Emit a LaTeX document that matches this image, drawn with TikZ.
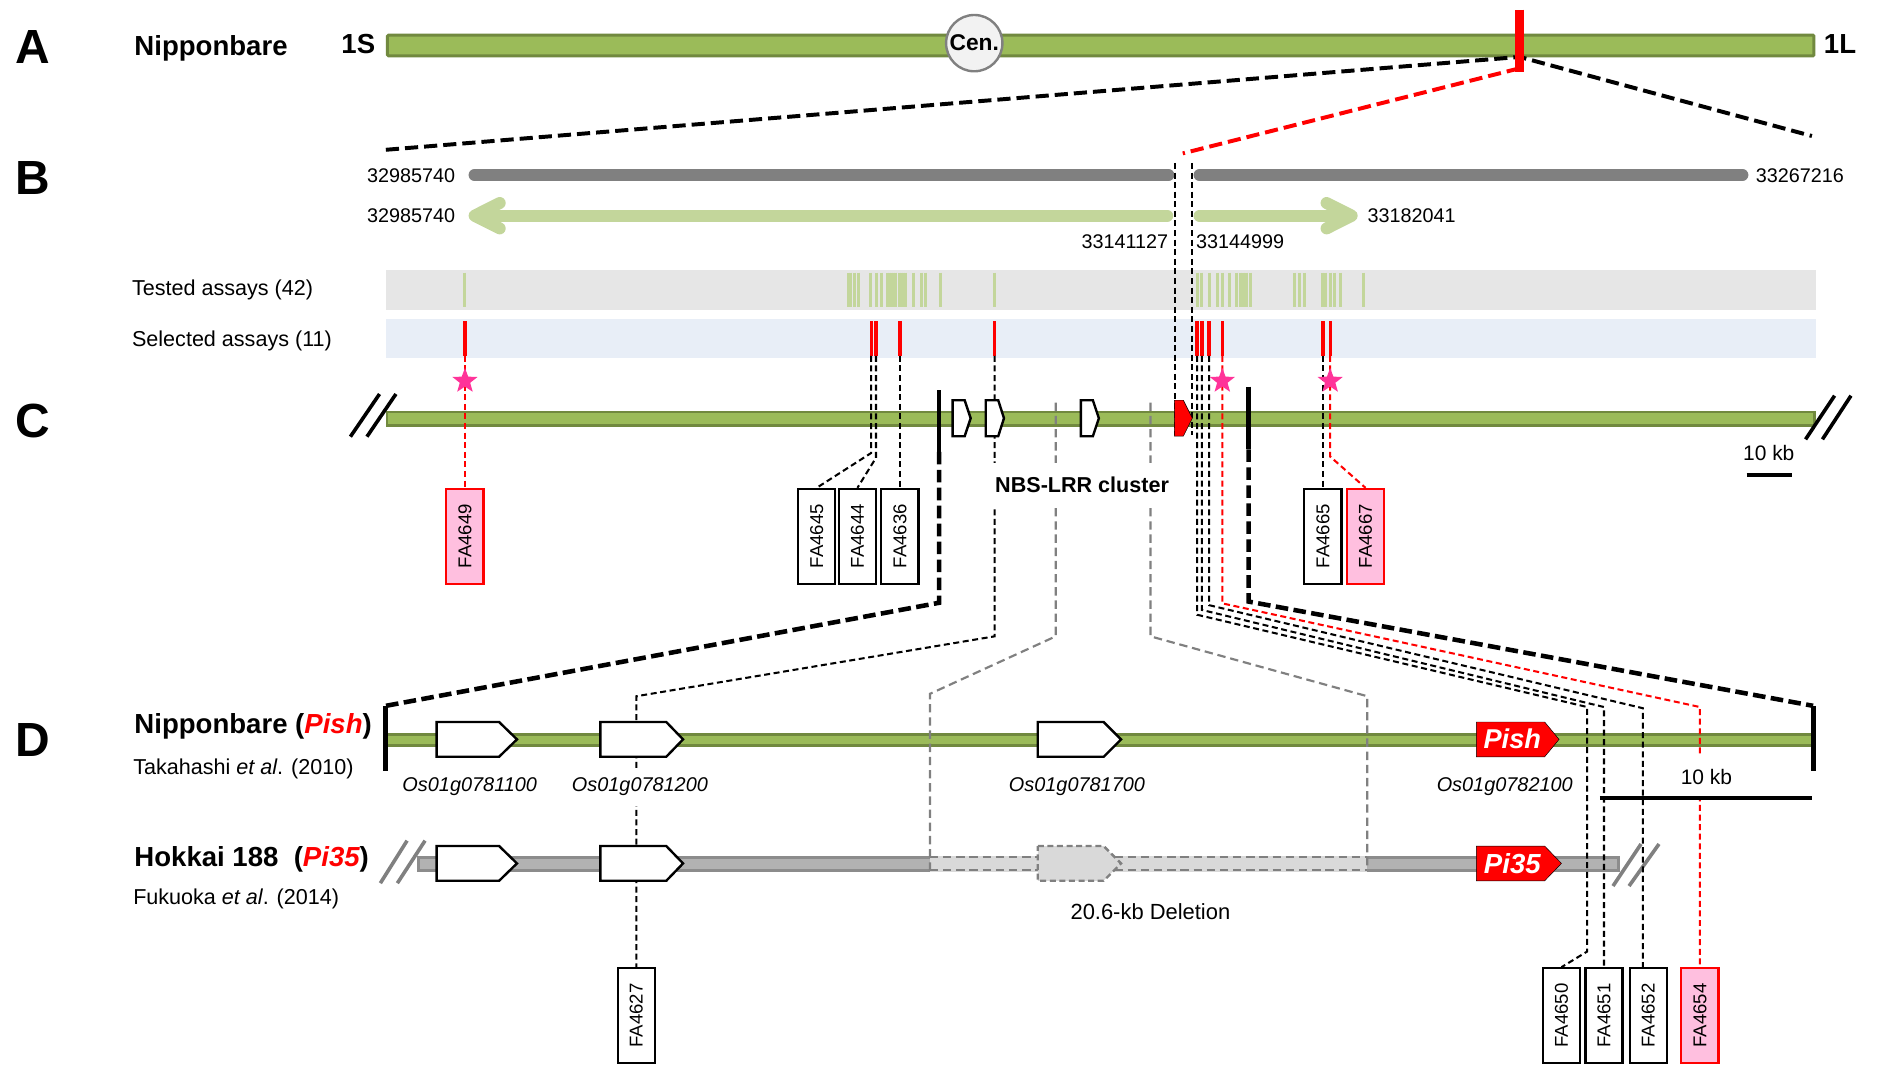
\documentclass[tikz,border=0pt]{standalone}
\usepackage{fontspec}
\setmainfont{Liberation Sans}
\usetikzlibrary{shapes.geometric}
\definecolor{chrgreen}{HTML}{9BBB59}
\definecolor{chredge}{HTML}{71893F}
\definecolor{ltgreen}{HTML}{C3D69B}
\definecolor{bgray}{HTML}{808080}
\definecolor{bandone}{HTML}{E6E6E6}
\definecolor{bandtwo}{HTML}{E8EEF7}
\definecolor{pinkfill}{HTML}{FFBFDF}
\definecolor{starpink}{HTML}{FF3399}
\definecolor{hokfill}{HTML}{B2B2B2}
\definecolor{hokedge}{HTML}{8C8C8C}
\definecolor{delfill}{HTML}{D9D9D9}
\definecolor{cenfill}{HTML}{F2F2F2}
\newcommand{\fsz}[1]{\fontsize{#1}{#1}\selectfont}
\newcommand{\genepent}[6]{\draw[#6] (#1,#4-#5) -- (#3,#4-#5) -- (#2,#4) -- (#3,#4+#5) -- (#1,#4+#5) -- cycle;}
\begin{document}
\begin{tikzpicture}[x=1pt,y=-1pt,
  lbl/.style={inner sep=0pt},
  bigdash/.style={line width=3.3pt, dash pattern=on 11pt off 5pt},
  thickdash/.style={line width=3.8pt, dash pattern=on 10.5pt off 4.5pt},
  thindash/.style={line width=1.7pt, dash pattern=on 5pt off 3pt},
  reddash/.style={thindash, draw=red},
  graydash/.style={line width=1.8pt, dash pattern=on 7pt off 4pt, draw=bgray},
  fabox/.style={draw, line width=1.8pt, fill=white, minimum width=79pt, minimum height=31pt, inner sep=0pt, rotate=90, font=\fsz{15.5}},
  fared/.style={fabox, draw=red, fill=pinkfill},
  pstar/.style={star, star points=5, star point ratio=2.4, minimum size=22pt, inner sep=0pt, fill=starpink},
  genew/.style={draw, line width=2pt, fill=white, line join=miter},
  brk/.style={line width=3pt, draw=black},
  glabel/.style={fill=white, inner xsep=0pt, inner ysep=0pt, minimum height=32pt, font=\fsz{16.6}\itshape, anchor=base}
]
\useasboundingbox[fill=white] (0,0) rectangle (1568,888);

% ---------- panel letters ----------
\node[lbl, font=\fsz{40}\bfseries, anchor=base] (lA) at (27,53) {A};
\node[lbl, font=\fsz{40}\bfseries, anchor=base] (lB) at (27,162) {B};
\node[lbl, font=\fsz{40}\bfseries, anchor=base] (lC) at (27,365) {C};
\node[lbl, font=\fsz{40}\bfseries, anchor=base] (lD) at (27,631) {D};

% ---------- panel A ----------
\node[lbl, font=\fsz{23}\bfseries, anchor=base west] (nipA) at (112,46) {Nipponbare};
\node[lbl, font=\fsz{23}\bfseries, anchor=base] (oneS) at (299,44.5) {1S};
\node[lbl, font=\fsz{23}\bfseries, anchor=base] (oneL) at (1535.5,44.5) {1L};
\draw[fill=chrgreen, draw=chredge, line width=2.5pt, rounded corners=1pt] (323.3,29.3) rectangle (1513.7,46.7);
\node[circle, draw=bgray, line width=2pt, fill=cenfill, minimum size=47pt, inner sep=0pt, font=\fsz{19}\bfseries] (cen) at (813,36) {Cen.};
\coordinate (aJoin) at (1268,47.5);
\coordinate (aRedJoin) at (1268,57);
\coordinate (aL) at (322,125);
\coordinate (aR) at (1512,113.5);
\coordinate (bRed) at (987,128);
\draw[bigdash] (aL) -- (aJoin) -- (aR);
\draw[bigdash, red] (aRedJoin) -- (bRed);
\coordinate (mkT) at (1268,8);
\coordinate (mkB) at (1268,60);
\draw[red, line width=7pt] (mkT) -- (mkB);

% ---------- panel B ----------
\draw[line width=10pt, bgray, line cap=round] (396,146) -- (975,146);
\draw[line width=10pt, bgray, line cap=round] (1001,146) -- (1454,146);
\draw[line width=10pt, ltgreen, line cap=round] (398,180) -- (974,180);
\draw[line width=10pt, ltgreen, line cap=round, line join=round] (417,169.4) -- (396,180) -- (417,190.6);
\draw[line width=10pt, ltgreen, line cap=round] (1001,180) -- (1126,180);
\draw[line width=10pt, ltgreen, line cap=round, line join=round] (1107,169.4) -- (1128,180) -- (1107,190.6);
\node[lbl, font=\fsz{16.5}, anchor=base east] (n1) at (380,151.9) {32985740};
\node[lbl, font=\fsz{16.5}, anchor=base east] (n2) at (380,185.9) {32985740};
\node[lbl, font=\fsz{16.5}, anchor=base west] (n3) at (1465,151.9) {33267216};
\node[lbl, font=\fsz{16.5}, anchor=base west] (n4) at (1141,185.9) {33182041};
\node[lbl, font=\fsz{16.5}, anchor=base east] (n5) at (975,207.3) {33141127};
\node[lbl, font=\fsz{16.5}, anchor=base west] (n6) at (998,207.3) {33144999};

% assay bands
\fill[bandone] (322,225) rectangle (1515,259);
\fill[bandtwo] (322,266) rectangle (1515,299);
\node[lbl, font=\fsz{18}, anchor=base west] (tested) at (110,246.7) {Tested assays (42)};
\node[lbl, font=\fsz{18}, anchor=base west] (selected) at (110,289.3) {Selected assays (11)};
\foreach \x in {388,708,710,713,716,726.6,731.3,735.5,740.5,742,743.8,745.5,747.1,750.2,752,753.6,755.5,762,768.8,772,784.7,829.7,999.5,1003,1009.2,1016.2,1020.3,1025.6,1031.7,1035,1037.9,1040,1043.2,1080.4,1084.6,1088.2,1103.5,1106,1109.9,1113.2,1118.8,1138}
  \draw[ltgreen, line width=2.5pt] (\x,227.5) -- (\x,256.5);
\foreach \x in {388,727,731,751,830,999,1003,1009,1020,1104,1110}
  \draw[red, line width=2.8pt] (\x,268) -- (\x,297);

% ---------- panel C bar ----------
\draw[fill=chrgreen, draw=chredge, line width=2pt] (323,344) rectangle (1514,355);
\draw[brk] (292.4,364.4) -- (316.7,328.8);
\draw[brk] (306.2,364.4) -- (330.4,328.8);
\draw[brk] (1506.7,366.6) -- (1530.9,330.2);
\draw[brk] (1520.8,366.6) -- (1544.6,330.2);
\node[lbl, font=\fsz{17.5}, anchor=base] (kbC) at (1476,384) {10 kb};
\coordinate (sbC1) at (1457.5,396.5);
\coordinate (sbC2) at (1495,396.5);
\draw[line width=3.5pt] (sbC1) -- (sbC2);

% ---------- panel D bars ----------
\node[lbl, font=\fsz{23}\bfseries, anchor=base west] (nipD) at (112,612) {Nipponbare (\textcolor{red}{\itshape Pish})};
\node[lbl, font=\fsz{18}, anchor=base west] (taka) at (111,646.7) {Takahashi \textit{et al}. (2010)};
\node[lbl, font=\fsz{23}\bfseries, anchor=base west] (hok) at (112,723) {Hokkai 188\ \ (\textcolor{red}{\itshape Pi35})};
\node[lbl, font=\fsz{18}, anchor=base west] (fuku) at (111,754.4) {Fukuoka \textit{et al}. (2014)};
\draw[fill=chrgreen, draw=chredge, line width=2.5pt] (322,612.6) rectangle (1513,622.4);
\draw[fill=hokfill, draw=hokedge, line width=2.5pt] (349.5,715.5) rectangle (1350.5,726);
\fill[delfill] (776,714) rectangle (1141,727.5);
\draw[graydash, line width=2pt] (776,715.3) -- (1141,715.3);
\draw[graydash, line width=2pt] (776,726.2) -- (1141,726.2);
\draw[brk, draw=bgray] (317.4,737) -- (339.7,701.5);
\draw[brk, draw=bgray] (331.6,737) -- (354.7,701.5);
\draw[brk, draw=bgray] (1346,739.4) -- (1369.4,704.3);
\draw[brk, draw=bgray] (1359.4,739.4) -- (1384.4,704.3);
\node[lbl, font=\fsz{18.3}, anchor=base] (del) at (960,767.7) {20.6-kb Deletion};

% ---------- FA boxes ----------
\node[fared] (fa4649) at (388,447.5) {FA4649};
\node[fabox] (fa4645) at (681.5,447.5) {FA4645};
\node[fabox] (fa4644) at (715.5,447.5) {FA4644};
\node[fabox] (fa4636) at (751,447.5) {FA4636};
\node[fabox] (fa4665) at (1104,447.5) {FA4665};
\node[fared] (fa4667) at (1139.5,447.5) {FA4667};
\node[fabox] (fa4627) at (531,847.5) {FA4627};
\node[fabox] (fa4650) at (1303,847.5) {FA4650};
\node[fabox] (fa4651) at (1338.5,847.5) {FA4651};
\node[fabox] (fa4652) at (1375.5,847.5) {FA4652};
\node[fared] (fa4654) at (1418.5,847.5) {FA4654};

% ---------- connectors ----------
\coordinate (m1) at (388,297);
\coordinate (m2) at (727,297);
\coordinate (m3) at (731,297);
\coordinate (m4) at (751,297);
\coordinate (m5) at (830,297);
\coordinate (m6) at (999,297);
\coordinate (m7) at (1003,297);
\coordinate (m8) at (1009,297);
\coordinate (m9) at (1020,297);
\coordinate (m10) at (1104,297);
\coordinate (m11) at (1110,297);
\coordinate (m2b) at (727,378);
\coordinate (m3b) at (731,382);
\coordinate (m5b) at (830,531);
\coordinate (m5c) at (531,581);
\coordinate (m6b) at (999,513);
\coordinate (m6c) at (1324.5,590);
\coordinate (m6d) at (1324.5,794);
\coordinate (m7b) at (1003,509);
\coordinate (m7c) at (1338.5,590);
\coordinate (m8b) at (1009,505);
\coordinate (m8c) at (1371,591);
\coordinate (m9b) at (1020,503.5);
\coordinate (m9c) at (1418.5,590);
\coordinate (m11b) at (1110,381);

\draw[reddash] (m1) -- (fa4649.east);
\draw[thindash] (m2) -- (m2b) -- (fa4645.east);
\draw[thindash] (m3) -- (m3b) -- (fa4644.east);
\draw[thindash] (m4) -- (fa4636.east);
\draw[thindash] (m5) -- (m5b) -- (m5c) -- (fa4627.east);
\draw[thindash] (m6) -- (m6b) -- (m6c) -- (m6d) -- (fa4650.east);
\draw[thindash] (m7) -- (m7b) -- (m7c) -- (fa4651.east);
\draw[thindash] (m8) -- (m8b) -- (m8c) -- (fa4652.east -| m8c);
\draw[reddash] (m9) -- (m9b) -- (m9c) -- (fa4654.east);
\draw[thindash] (m10) -- (fa4665.east);
\draw[reddash] (m11) -- (m11b) -- (fa4667.east);

% delimiters of the B interval
\coordinate (v1a) at (980.6,136);
\coordinate (v1b) at (980.6,363);
\coordinate (v2a) at (995,136);
\coordinate (v2b) at (995,363);
\draw[thindash] (v1a) -- (v1b);
\draw[thindash] (v2a) -- (v2b);

% thick zoom lines C -> D
\coordinate (tL1) at (783.7,325.5);
\coordinate (tL2) at (783.7,377);
\coordinate (tL3) at (783.7,503);
\coordinate (dL) at (322,589);
\coordinate (dLb) at (322,643);
\coordinate (tR1) at (1042,322.7);
\coordinate (tR2) at (1042,375);
\coordinate (tR3) at (1042,502);
\coordinate (dR) at (1513,589);
\coordinate (dRb) at (1513,643);
\draw[line width=3.8pt] (tL1) -- (tL2);
\draw[thickdash] (tL2) -- (tL3) -- (dL);
\draw[line width=4pt] (dL) -- (dLb);
\draw[line width=3.8pt] (tR1) -- (tR2);
\draw[thickdash] (tR2) -- (tR3) -- (dR);
\draw[line width=4pt] (dR) -- (dRb);

% gray deletion lines
\coordinate (g1a) at (881,336);
\coordinate (g1b) at (881,531);
\coordinate (g1c) at (776,579);
\coordinate (g1d) at (776,726);
\coordinate (g2a) at (960,336);
\coordinate (g2b) at (960,531);
\coordinate (g2c) at (1141,581);
\coordinate (g2d) at (1141,726);
\draw[graydash] (g1a) -- (g1b) -- (g1c) -- (g1d);
\draw[graydash] (g2a) -- (g2b) -- (g2c) -- (g2d);

% ---------- genes ----------
% panel C
\genepent{795}{810}{805}{349}{15}{genew}
\genepent{822.6}{837.8}{833}{349}{15}{genew}
\genepent{902}{917}{912}{349}{15}{genew}
\genepent{980}{995}{987.5}{349}{15}{fill=red}
% panel D Nipponbare
\genepent{364.4}{431.4}{416.5}{617}{14.5}{genew}
\genepent{501}{570}{556}{617}{14.5}{genew}
\genepent{866}{935.5}{921}{617}{14.5}{genew}
\genepent{1232}{1301}{1289}{617}{14.5}{fill=red}
\node[lbl, font=\fsz{22.7}\bfseries\itshape, text=white, anchor=base] (pishlbl) at (1262,625) {Pish};
% panel D Hokkai
\genepent{364.4}{431.4}{416.5}{720.5}{14.5}{genew}
\genepent{501}{570}{556}{720.5}{14.5}{genew}
\genepent{866}{935.5}{921}{720.5}{14.5}{draw=bgray, dash pattern=on 5pt off 3pt, line width=2pt, fill=delfill}
\genepent{1232}{1303}{1289}{720.5}{14.5}{fill=red}
\node[lbl, font=\fsz{23}\bfseries\itshape, text=white, anchor=base] (pi35lbl) at (1262,728.7) {Pi35};

% gene labels
\node[glabel] (g781100) at (392,660.6) {Os01g0781100};
\node[glabel] (g781200) at (534,660.6) {Os01g0781200};
\node[glabel] (g781700) at (898.7,660.6) {Os01g0781700};
\node[glabel] (g782100) at (1255.7,660.6) {Os01g0782100};

\node[fill=white, inner xsep=3pt, inner ysep=0pt, minimum height=36pt, font=\fsz{18}\bfseries, anchor=base] (nbs) at (903,411) {NBS-LRR cluster};

\node[fill=white, inner xsep=4pt, inner ysep=0pt, minimum height=34pt, font=\fsz{17.5}, anchor=base] (kbD) at (1424,655) {10 kb};
\coordinate (sbD1) at (1335,666);
\coordinate (sbD2) at (1512,666);
\draw[line width=3.5pt] (sbD1) -- (sbD2);

% stars
\node[pstar] (s1) at (388,318) {};
\node[pstar] (s2) at (1020,318) {};
\node[pstar] (s3) at (1110,318) {};
\end{tikzpicture}
\end{document}
